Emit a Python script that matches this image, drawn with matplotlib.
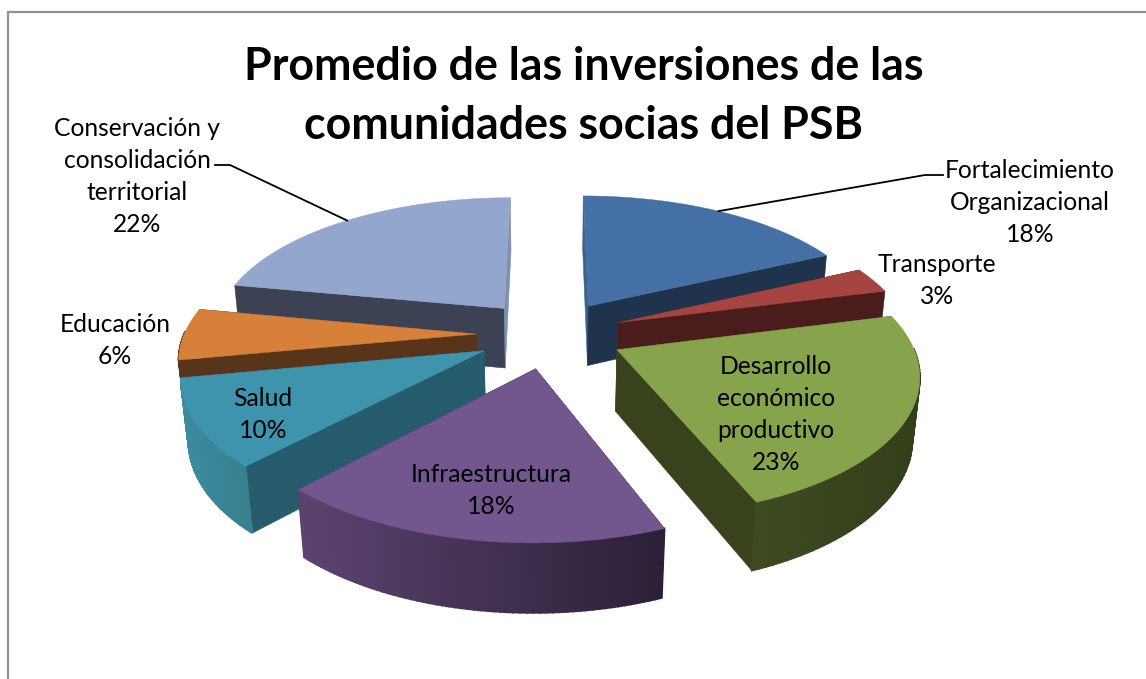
import numpy as np
import matplotlib
matplotlib.use("Agg")
import matplotlib.pyplot as plt
from matplotlib.colors import to_rgb

# pie data
categories = ["Fortalecimiento\nOrganizacional", "Transporte", "Desarrollo\neconómico\nproductivo",
              "Infraestructura", "Salud", "Educación", "Conservación y\nconsolidación\nterritorial"]
values = [18, 3, 23, 18, 10, 6, 22]
title_lines = ["Promedio de las inversiones de las", "comunidades socias del PSB"]

# colours per slice: top, cut walls (start / end side), outer wall left and right
top_colors = ["#4470a6", "#a64441", "#87a34c", "#71578e", "#3f94ad", "#d6803a", "#92a6ce"]
wall_start = ["#3a6090", "#4a1c1b", "#38431e", "#2f233d", "#265c6b", "#57341a", "#3c4254"]
wall_end = ["#1f344c", "#4a1c1b", "#38431e", "#2f233d", "#265c6b", "#57341a", "#7f8fb0"]
outer_left = ["#1f344c", "#4a1c1b", "#3f4c22", "#5b4470", "#3d8ba1", "#57341a", "#7f8fb0"]
outer_right = ["#1f344c", "#4a1c1b", "#333e1b", "#2c2038", "#37808f", "#57341a", "#7f8fb0"]
draw_order = [0, 6, 1, 5, 2, 4, 3]

# where the label lines go (pixels): x centre, first line y
label_pos = [(1030, 170), (937, 264), (776, 366), (491, 474), (263, 398), (115, 324), (137, 128)]

# projection of the pie, fitted by eye on the picture
cx, cy = 550, 334
rx, ry = 295, 136.5
persp = 0.156
explode = 0.25
radius = 0.99
depth = 62
base_shrink = 0.02


def project(x, y, low=False):
    w = 1 - persp * y
    if low:
        w = w + base_shrink
        return cx + rx * x / w, cy + (ry * y + depth) / w
    return cx + rx * x / w, cy + ry * y / w


def slice_xy(theta, mid, r=radius):
    # theta clockwise from 12 o'clock, y goes towards the viewer
    x = explode * np.sin(mid) + r * np.sin(theta)
    y = -explode * np.cos(mid) + -r * np.cos(theta)
    return x, y


fig = plt.figure(figsize=(11.46, 6.79), dpi=100)
ax = fig.add_axes([0, 0, 1, 1])
ax.set_xlim(0, 1146)
ax.set_ylim(679, 0)
ax.axis("off")
plt.rcParams["font.family"] = ["Lato", "DejaVu Sans"]

# chart frame, right and bottom are cut off in the source
ax.plot([8, 8, 1146], [679, 12, 12], color="#8f8f8f", lw=1.6, solid_joinstyle="miter")

edges = np.cumsum([0] + values) / sum(values) * 2 * np.pi
for i in draw_order:
    z = 2 + draw_order.index(i)
    t0, t1 = edges[i], edges[i + 1]
    mid = (t0 + t1) / 2
    thetas = np.linspace(t0, t1, 61)
    ax0, ay0 = slice_xy(mid, mid, r=0)

    # the two cut walls
    for t, col in ((t0, wall_start[i]), (t1, wall_end[i])):
        ex, ey = slice_xy(t, mid)
        p = [project(ax0, ay0), project(ex, ey), project(ex, ey, True), project(ax0, ay0, True)]
        ax.fill(*zip(*p), color=col, lw=0.4, zorder=z)

    # outer wall, shaded strip by strip, back side of the rim is not seen
    c0, c1 = np.array(to_rgb(outer_left[i])), np.array(to_rgb(outer_right[i]))
    xs_mid = [project(*slice_xy(t, mid))[0] for t in thetas]
    span = max(xs_mid) - min(xs_mid)
    for a, b in zip(thetas[:-1], thetas[1:]):
        if np.cos((a + b) / 2) > 0.02:
            continue
        xa, ya = slice_xy(a, mid)
        xb, yb = slice_xy(b, mid)
        p = [project(xa, ya), project(xb, yb), project(xb, yb, True), project(xa, ya, True)]
        f = (project(xa, ya)[0] - min(xs_mid)) / span
        ax.fill(*zip(*p), color=c0 + (c1 - c0) * f, lw=1.3, zorder=z)

    # top face
    rim = [project(*slice_xy(t, mid)) for t in thetas]
    top = [project(ax0, ay0)] + rim
    ax.fill(*zip(*top), color=top_colors[i], lw=0.3, zorder=z)

# text
for line, y in zip(title_lines, (67, 126)):
    ax.text(584, y, line, ha="center", va="center", fontsize=32.2, fontweight="bold", color="black", zorder=20)

for i, name in enumerate(categories):
    lines = name.split("\n") + ["%d%%" % values[i]]
    x0, y0 = label_pos[i]
    for k, line in enumerate(lines):
        ax.text(x0, y0 + k * 32.3, line, ha="center", va="center", fontsize=17.7, color="black", zorder=20)

# leader lines, from the rim at the middle of the slice
mid0 = (edges[0] + edges[1]) / 2
mid6 = (edges[6] + edges[7]) / 2
lx, ly = project(*slice_xy(mid0, mid0))
ax.plot([lx, 925, 943], [ly, 175, 175], color="black", lw=1.3, zorder=15)
lx, ly = project(*slice_xy(mid6, mid6))
ax.plot([lx, 230, 215], [ly, 165, 165], color="black", lw=1.3, zorder=15)

plt.savefig("out.png", dpi=100)
